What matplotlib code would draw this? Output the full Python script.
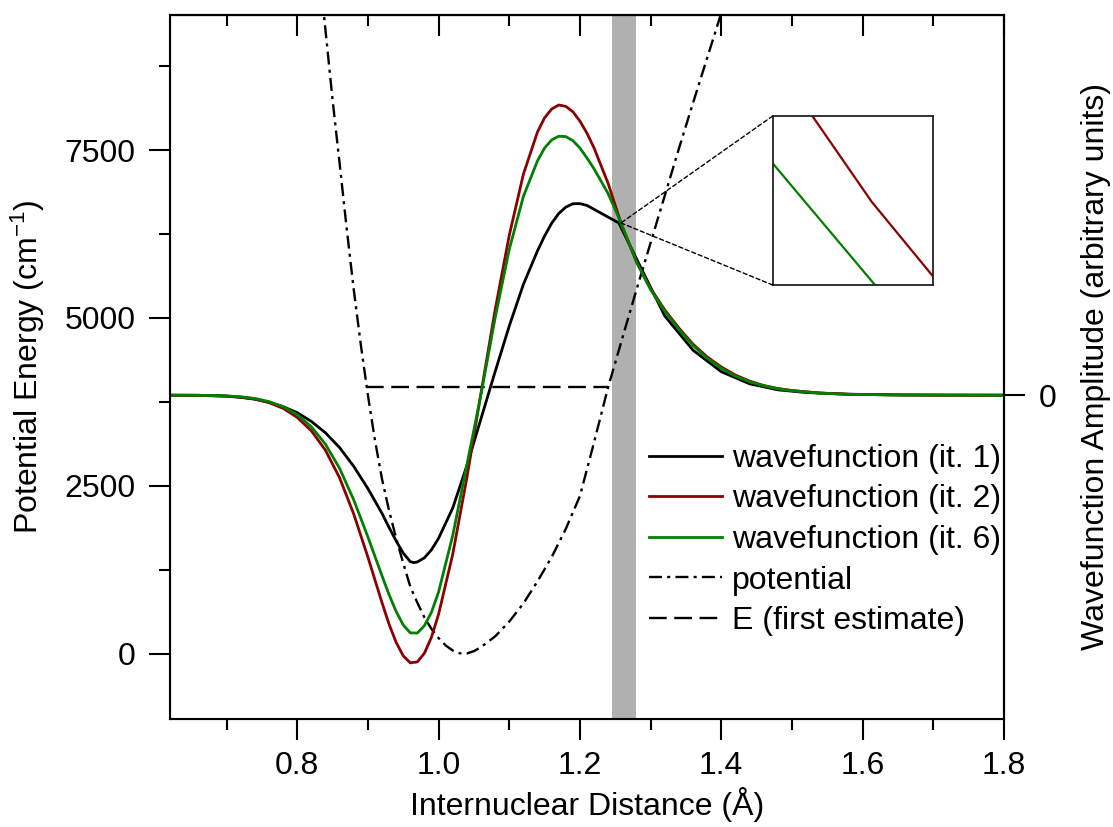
import matplotlib
matplotlib.use('Agg')
import matplotlib.pyplot as plt
from matplotlib.patches import ConnectionPatch
from matplotlib.ticker import MultipleLocator, FormatStrFormatter

# baseline of the wavefunctions (their zero on the right axis), in cm-1 units
wf_zero = 3850
e_first = 3973

# wavefunctions (it. 2 and it. 6) on a shared grid
wf_x = [0.62, 0.66, 0.70, 0.72, 0.74, 0.76, 0.78, 0.80, 0.82, 0.84, 0.86, 0.88, 0.90,
        0.92, 0.93, 0.94, 0.95, 0.96, 0.97, 0.98, 0.99, 1.00, 1.02, 1.04, 1.06, 1.08,
        1.10, 1.12, 1.14, 1.15, 1.16, 1.17, 1.18, 1.19, 1.20, 1.21, 1.22, 1.24, 1.26,
        1.28, 1.30, 1.32, 1.34, 1.36, 1.38, 1.40, 1.42, 1.44, 1.46, 1.48, 1.50, 1.54,
        1.58, 1.64, 1.72, 1.80]
wf_it2 = [3850, 3849, 3838, 3822, 3795, 3740, 3655, 3520, 3320, 3030, 2620, 2080, 1440,
          760, 440, 170, -30, -134, -120, 10, 250, 590, 1480, 2620, 3880, 5120,
          6230, 7140, 7770, 7980, 8110, 8170, 8150, 8070, 7930, 7750, 7530, 7000, 6350,
          5840, 5440, 5120, 4850, 4610, 4420, 4270, 4150, 4060, 3995, 3950, 3920, 3882,
          3864, 3855, 3851, 3850]
wf_it6 = [3850, 3849, 3840, 3826, 3802, 3755, 3680, 3560, 3380, 3120, 2760, 2290, 1740,
          1160, 880, 630, 430, 312, 310, 420, 620, 920, 1760, 2810, 3860, 5000,
          6020, 6810, 7340, 7530, 7650, 7705, 7700, 7640, 7530, 7380, 7220, 6850, 6370,
          5830, 5420, 5100, 4830, 4590, 4400, 4250, 4135, 4050, 3990, 3946, 3918, 3880,
          3863, 3855, 3851, 3850]

# first iteration (coarser on the outer side)
wf1_x = [0.62, 0.66, 0.70, 0.72, 0.74, 0.76, 0.78, 0.80, 0.82, 0.84, 0.86, 0.88, 0.90,
         0.92, 0.93, 0.94, 0.95, 0.96, 0.965, 0.97, 0.98, 0.99, 1.00, 1.02, 1.04, 1.06,
         1.08, 1.10, 1.12, 1.14, 1.15, 1.16, 1.17, 1.18, 1.19, 1.20, 1.21, 1.255, 1.32,
         1.36, 1.40, 1.44, 1.48, 1.52, 1.58, 1.66, 1.80]
wf_it1 = [3850, 3848, 3835, 3818, 3790, 3745, 3680, 3590, 3460, 3290, 3070, 2790, 2460,
          2090, 1880, 1680, 1500, 1372, 1358, 1368, 1430, 1550, 1720, 2170, 2800, 3500,
          4200, 4880, 5500, 6000, 6220, 6410, 6555, 6650, 6700, 6702, 6675, 6414, 5030,
          4520, 4200, 4020, 3930, 3890, 3865, 3853, 3850]

# potential energy curve
pot_x = [0.835, 0.85, 0.86, 0.87, 0.88, 0.89, 0.90, 0.91, 0.92, 0.93, 0.94, 0.95, 0.96,
         0.97, 0.98, 0.99, 1.00, 1.01, 1.02, 1.03, 1.04, 1.05, 1.06, 1.08, 1.10, 1.12,
         1.14, 1.16, 1.18, 1.20, 1.22, 1.24, 1.26, 1.28, 1.30, 1.32, 1.34, 1.36, 1.38, 1.40]
pot_y = [9800, 8250, 7300, 6330, 5420, 4600, 3850, 3180, 2600, 2130, 1720, 1350, 1000,
         760, 540, 370, 235, 125, 50, 8, 5, 40, 100, 260, 480, 750,
         1080, 1440, 1860, 2350, 3150, 3973, 4700, 5420, 6120, 6820, 7520, 8200, 8870, 9540]

e_x = [0.898, 1.24]
band = (1.245, 1.28)
zoom_pt = (1.258, 6414)

# inset contents (inset's own 0..1 units)
ins_red_x = [0.247, 0.616, 1.0]
ins_red_y = [1.0, 0.493, 0.049]
ins_green_x = [0.0, 0.637]
ins_green_y = [0.72, 0.0]

dark_red = '#8b0000'
green = '#008000'
fs = 23

plt.rcParams['font.family'] = ['Liberation Sans', 'DejaVu Sans']
plt.rcParams['mathtext.default'] = 'regular'

fig = plt.figure(figsize=(11.13, 8.27), dpi=100)
ax = fig.add_axes([170 / 1113, 1 - 719 / 827, 834 / 1113, 704 / 827])

ax.axvspan(band[0], band[1], color='#b0b0b0', lw=0, zorder=0)
ax.plot(wf1_x, wf_it1, c='k', lw=2.0, label='wavefunction (it. 1)', zorder=3)
ax.plot(wf_x, wf_it2, c=dark_red, lw=2.0, label='wavefunction (it. 2)', zorder=3)
ax.plot(wf_x, wf_it6, c=green, lw=2.0, label='wavefunction (it. 6)', zorder=3)
ax.plot(pot_x, pot_y, c='k', lw=1.7, ls=(0, (5.5, 2.2, 1.3, 2.2)), label='potential', zorder=2)
ax.plot(e_x, [e_first, e_first], c='k', lw=1.7, ls=(0, (7.5, 3.2)),
        label='E (first estimate)', zorder=2)

ax.set_xlim(0.62, 1.8)
ax.set_ylim(-970, 9510)
ax.xaxis.set_major_locator(MultipleLocator(0.2))
ax.xaxis.set_minor_locator(MultipleLocator(0.1))
ax.yaxis.set_major_locator(MultipleLocator(2500))
ax.yaxis.set_minor_locator(MultipleLocator(1250))
ax.xaxis.set_major_formatter(FormatStrFormatter('%.1f'))
ax.tick_params(which='both', direction='out', width=1.5, labelsize=fs, right=False, top=False)
ax.tick_params(which='major', length=15)
ax.tick_params(which='minor', length=8)
ax.tick_params(axis='x', pad=8)
ax.tick_params(axis='y', pad=10)
for s in ax.spines.values():
    s.set_linewidth(1.5)

top = ax.secondary_xaxis('top')
top.xaxis.set_major_locator(MultipleLocator(0.2))
top.xaxis.set_minor_locator(MultipleLocator(0.1))
top.tick_params(which='both', direction='in', width=1.5, labeltop=False)
top.tick_params(which='major', length=15)
top.tick_params(which='minor', length=8)
top.spines['top'].set_linewidth(1.5)

ax2 = ax.twinx()
ax2.set_ylim(ax.get_ylim())
ax2.set_yticks([wf_zero])
ax2.set_yticklabels(['0'])
ax2.tick_params(direction='out', length=15, width=1.5, labelsize=fs, pad=10)
ax2.spines['right'].set_linewidth(1.5)
ax2.set_ylabel('Wavefunction Amplitude (arbitrary units)', fontsize=fs, labelpad=18)

ax.set_xlabel('Internuclear Distance (Å)', fontsize=fs, labelpad=4)
ax.set_ylabel('Potential Energy (cm$^{-1}$)', fontsize=fs, labelpad=12)

ax.legend(loc='center right', bbox_to_anchor=(1004 / 1113, 1 - 540 / 827),
          bbox_transform=fig.transFigure, frameon=False, fontsize=fs,
          handlelength=2.3, handletextpad=0.3, labelspacing=0.33,
          borderpad=0.1, borderaxespad=0)

# zoomed inset
axins = fig.add_axes([772.7 / 1113, 1 - 285 / 827, 160.6 / 1113, 169 / 827])
axins.plot(ins_red_x, ins_red_y, c=dark_red, lw=1.6)
axins.plot(ins_green_x, ins_green_y, c=green, lw=1.6)
axins.set_xlim(0, 1)
axins.set_ylim(0, 1)
axins.set_xticks([])
axins.set_yticks([])
for s in axins.spines.values():
    s.set_linewidth(1.3)
    s.set_color('#222222')

for corner in [(0, 1), (0, 0)]:
    con = ConnectionPatch(xyA=corner, coordsA=axins.transAxes,
                          xyB=zoom_pt, coordsB=ax.transData,
                          color='k', lw=1.0, ls=(0, (3, 2)))
    fig.add_artist(con)

fig.savefig('out.png', dpi=100)
